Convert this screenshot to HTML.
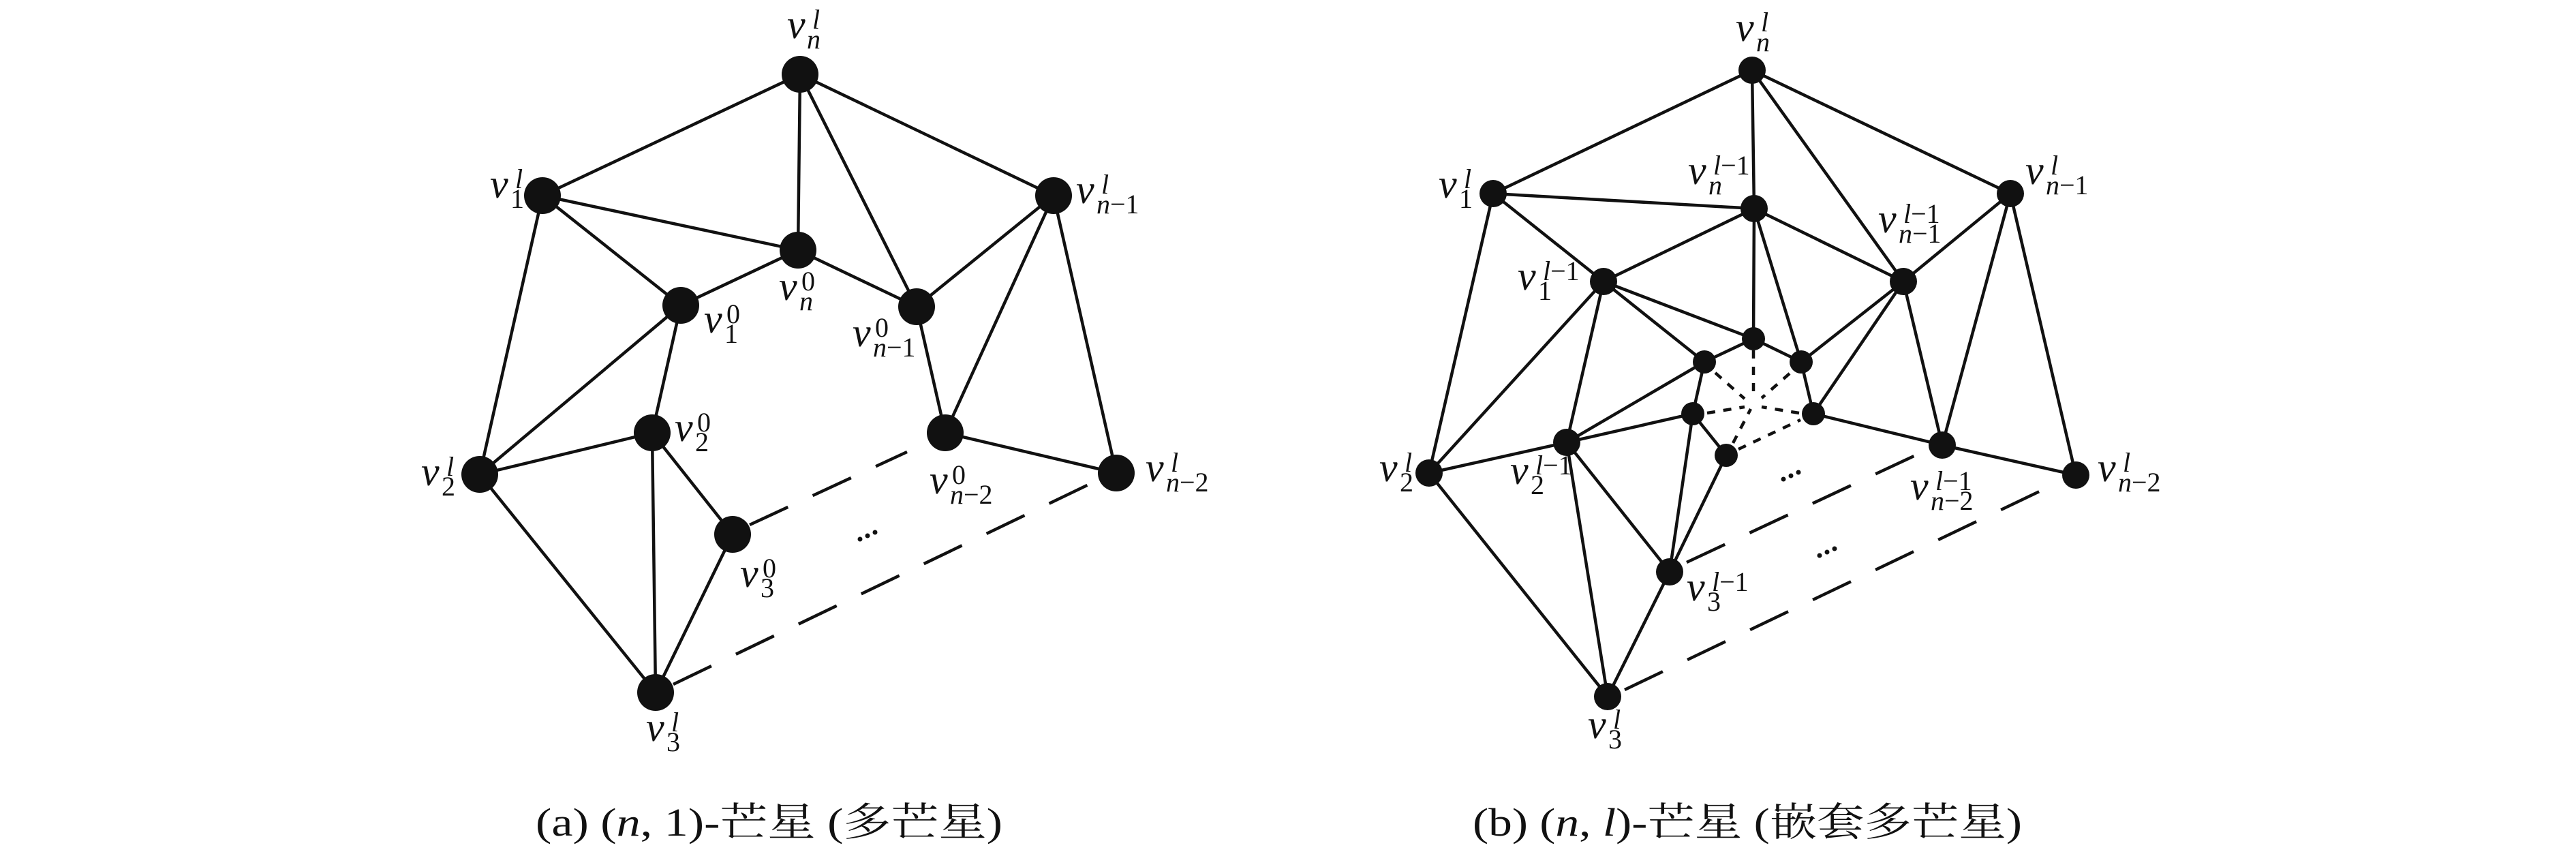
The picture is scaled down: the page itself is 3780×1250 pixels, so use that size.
<!DOCTYPE html>
<html><head><meta charset="utf-8"><style>
html,body{margin:0;padding:0;background:#fff;}
svg{display:block;}
.v{font-family:"Liberation Serif",serif;font-style:italic;font-size:60px;fill:#111;}
.s{font-family:"Liberation Serif",serif;font-size:40px;fill:#111;}
.i{font-style:italic;}
.cap{font-family:"Liberation Serif","Noto Serif CJK SC",serif;font-size:58px;fill:#111;}
</style></head><body>
<svg width="3780" height="1250" viewBox="0 0 3780 1250" xmlns="http://www.w3.org/2000/svg">
<g stroke="#111" stroke-width="4.5" fill="none" stroke-linecap="round">
<line x1="1174" y1="109" x2="796" y2="287"/>
<line x1="1174" y1="109" x2="1171" y2="367"/>
<line x1="1174" y1="109" x2="1345" y2="450"/>
<line x1="1174" y1="109" x2="1546" y2="287"/>
<line x1="796" y1="287" x2="1171" y2="367"/>
<line x1="796" y1="287" x2="999" y2="448"/>
<line x1="796" y1="287" x2="704" y2="696"/>
<line x1="1171" y1="367" x2="999" y2="448"/>
<line x1="1171" y1="367" x2="1345" y2="450"/>
<line x1="999" y1="448" x2="704" y2="696"/>
<line x1="999" y1="448" x2="957" y2="635"/>
<line x1="1345" y1="450" x2="1546" y2="287"/>
<line x1="1345" y1="450" x2="1387" y2="635"/>
<line x1="1546" y1="287" x2="1387" y2="635"/>
<line x1="1546" y1="287" x2="1638" y2="694"/>
<line x1="957" y1="635" x2="704" y2="696"/>
<line x1="957" y1="635" x2="1075" y2="784"/>
<line x1="957" y1="635" x2="962" y2="1016"/>
<line x1="704" y1="696" x2="962" y2="1016"/>
<line x1="1075" y1="784" x2="962" y2="1016"/>
<line x1="1387" y1="635" x2="1638" y2="694"/>
<line x1="2571" y1="103" x2="2191" y2="284"/>
<line x1="2571" y1="103" x2="2574" y2="306"/>
<line x1="2571" y1="103" x2="2793" y2="413"/>
<line x1="2571" y1="103" x2="2950" y2="284"/>
<line x1="2191" y1="284" x2="2574" y2="306"/>
<line x1="2191" y1="284" x2="2353" y2="413"/>
<line x1="2191" y1="284" x2="2097" y2="694"/>
<line x1="2950" y1="284" x2="2793" y2="413"/>
<line x1="2950" y1="284" x2="2850" y2="653"/>
<line x1="2950" y1="284" x2="3046" y2="697"/>
<line x1="2574" y1="306" x2="2353" y2="413"/>
<line x1="2574" y1="306" x2="2793" y2="413"/>
<line x1="2574" y1="306" x2="2573" y2="497"/>
<line x1="2574" y1="306" x2="2643" y2="531"/>
<line x1="2353" y1="413" x2="2573" y2="497"/>
<line x1="2353" y1="413" x2="2501" y2="531"/>
<line x1="2353" y1="413" x2="2097" y2="694"/>
<line x1="2353" y1="413" x2="2299" y2="649"/>
<line x1="2793" y1="413" x2="2643" y2="531"/>
<line x1="2793" y1="413" x2="2661" y2="607"/>
<line x1="2793" y1="413" x2="2850" y2="653"/>
<line x1="2573" y1="497" x2="2501" y2="531"/>
<line x1="2573" y1="497" x2="2643" y2="531"/>
<line x1="2501" y1="531" x2="2484" y2="607"/>
<line x1="2501" y1="531" x2="2299" y2="649"/>
<line x1="2643" y1="531" x2="2661" y2="607"/>
<line x1="2484" y1="607" x2="2299" y2="649"/>
<line x1="2484" y1="607" x2="2533" y2="668"/>
<line x1="2484" y1="607" x2="2450" y2="839"/>
<line x1="2533" y1="668" x2="2450" y2="839"/>
<line x1="2661" y1="607" x2="2850" y2="653"/>
<line x1="2299" y1="649" x2="2097" y2="694"/>
<line x1="2299" y1="649" x2="2359" y2="1022"/>
<line x1="2299" y1="649" x2="2450" y2="839"/>
<line x1="2097" y1="694" x2="2359" y2="1022"/>
<line x1="2450" y1="839" x2="2359" y2="1022"/>
<line x1="2850" y1="653" x2="3046" y2="697"/>
</g>
<g stroke="#111" stroke-width="4.5" fill="none" stroke-dasharray="62 40">
<line x1="1100" y1="770" x2="1331" y2="663"/>
<line x1="988" y1="1004" x2="1616" y2="702"/>
<line x1="2475" y1="825" x2="2830" y2="659"/>
<line x1="2384" y1="1012" x2="3024" y2="706"/>
</g>
<g stroke="#111" stroke-width="4.5" fill="none" stroke-dasharray="12 12">
<line x1="2573" y1="514" x2="2573" y2="575"/>
<line x1="2517" y1="547" x2="2560" y2="585"/>
<line x1="2626" y1="548" x2="2585" y2="584"/>
<line x1="2505" y1="606" x2="2560" y2="597"/>
<line x1="2640" y1="606" x2="2585" y2="597"/>
<line x1="2543" y1="650" x2="2569" y2="600"/>
<line x1="2551" y1="659" x2="2642" y2="616"/>
</g>
<g fill="#111">
<circle cx="1174" cy="109" r="27"/><circle cx="796" cy="287" r="27"/><circle cx="1171" cy="367" r="27"/>
<circle cx="999" cy="448" r="27"/><circle cx="1345" cy="450" r="27"/><circle cx="1546" cy="287" r="27"/>
<circle cx="957" cy="635" r="27"/><circle cx="1387" cy="635" r="27"/><circle cx="704" cy="696" r="27"/>
<circle cx="1638" cy="694" r="27"/><circle cx="1075" cy="784" r="27"/><circle cx="962" cy="1016" r="27"/>
<circle cx="2571" cy="103" r="20"/><circle cx="2191" cy="284" r="20"/><circle cx="2574" cy="306" r="20"/>
<circle cx="2950" cy="284" r="20"/><circle cx="2353" cy="413" r="20"/><circle cx="2793" cy="413" r="20"/>
<circle cx="2299" cy="649" r="20"/><circle cx="2850" cy="653" r="20"/><circle cx="2097" cy="694" r="20"/>
<circle cx="3046" cy="697" r="20"/><circle cx="2450" cy="839" r="20"/><circle cx="2359" cy="1022" r="20"/>
<circle cx="2573" cy="497" r="17"/><circle cx="2501" cy="531" r="17"/><circle cx="2643" cy="531" r="17"/>
<circle cx="2484" cy="607" r="17"/><circle cx="2661" cy="607" r="17"/><circle cx="2533" cy="668" r="17"/>
<circle cx="1262" cy="791" r="3.5"/><circle cx="1273" cy="786" r="3.5"/><circle cx="1284" cy="781" r="3.5"/>
<circle cx="2617" cy="703" r="3.5"/><circle cx="2628" cy="698" r="3.5"/><circle cx="2639" cy="693" r="3.5"/>
<circle cx="2670" cy="815" r="3.5"/><circle cx="2681" cy="810" r="3.5"/><circle cx="2692" cy="805" r="3.5"/>
</g>
<g>
<text class="v" x="1155" y="56">v</text><text class="s i" x="1192" y="42">l</text><text class="s i" x="1184" y="71">n</text>
<text class="v" x="719" y="290">v</text><text class="s i" x="756" y="276">l</text><text class="s" x="749" y="305">1</text>
<text class="v" x="1579" y="298">v</text><text class="s i" x="1616" y="284">l</text><text class="s" x="1609" y="313"><tspan class="i">n</tspan>−1</text>
<text class="v" x="1143" y="440">v</text><text class="s" x="1176" y="426">0</text><text class="s i" x="1173" y="455">n</text>
<text class="v" x="1033" y="488">v</text><text class="s" x="1066" y="474">0</text><text class="s" x="1063" y="503">1</text>
<text class="v" x="1251" y="508">v</text><text class="s" x="1284" y="494">0</text><text class="s" x="1281" y="523"><tspan class="i">n</tspan>−1</text>
<text class="v" x="990" y="647">v</text><text class="s" x="1023" y="633">0</text><text class="s" x="1020" y="662">2</text>
<text class="v" x="618" y="712">v</text><text class="s i" x="655" y="698">l</text><text class="s" x="648" y="727">2</text>
<text class="v" x="1364" y="724">v</text><text class="s" x="1397" y="710">0</text><text class="s" x="1394" y="739"><tspan class="i">n</tspan>−2</text>
<text class="v" x="1681" y="706">v</text><text class="s i" x="1718" y="692">l</text><text class="s" x="1711" y="721"><tspan class="i">n</tspan>−2</text>
<text class="v" x="1086" y="861">v</text><text class="s" x="1119" y="847">0</text><text class="s" x="1116" y="876">3</text>
<text class="v" x="948" y="1087">v</text><text class="s i" x="985" y="1073">l</text><text class="s" x="978" y="1102">3</text>
</g>
<g>
<text class="v" x="2547" y="60">v</text><text class="s i" x="2584" y="46">l</text><text class="s i" x="2577" y="75">n</text>
<text class="v" x="2111" y="290">v</text><text class="s i" x="2148" y="276">l</text><text class="s" x="2141" y="305">1</text>
<text class="v" x="2477" y="270">v</text><text class="s" x="2514" y="256"><tspan class="i">l</tspan>−1</text><text class="s i" x="2507" y="285">n</text>
<text class="v" x="2972" y="270">v</text><text class="s i" x="3009" y="256">l</text><text class="s" x="3002" y="285"><tspan class="i">n</tspan>−1</text>
<text class="v" x="2756" y="341">v</text><text class="s" x="2793" y="327"><tspan class="i">l</tspan>−1</text><text class="s" x="2786" y="356"><tspan class="i">n</tspan>−1</text>
<text class="v" x="2227" y="425">v</text><text class="s" x="2264" y="411"><tspan class="i">l</tspan>−1</text><text class="s" x="2257" y="440">1</text>
<text class="v" x="2024" y="706">v</text><text class="s i" x="2061" y="692">l</text><text class="s" x="2054" y="721">2</text>
<text class="v" x="2216" y="710">v</text><text class="s" x="2253" y="696"><tspan class="i">l</tspan>−1</text><text class="s" x="2246" y="725">2</text>
<text class="v" x="2803" y="733">v</text><text class="s" x="2840" y="719"><tspan class="i">l</tspan>−1</text><text class="s" x="2833" y="748"><tspan class="i">n</tspan>−2</text>
<text class="v" x="3078" y="706">v</text><text class="s i" x="3115" y="692">l</text><text class="s" x="3108" y="721"><tspan class="i">n</tspan>−2</text>
<text class="v" x="2475" y="881">v</text><text class="s" x="2512" y="867"><tspan class="i">l</tspan>−1</text><text class="s" x="2505" y="896">3</text>
<text class="v" x="2330" y="1083">v</text><text class="s i" x="2367" y="1069">l</text><text class="s" x="2360" y="1098">3</text>
</g>
<text class="cap" x="786" y="1226" textLength="685" lengthAdjust="spacingAndGlyphs">(a) (<tspan font-style="italic">n</tspan>, 1)-芒星 (多芒星)</text>
<text class="cap" x="2161" y="1226" textLength="806" lengthAdjust="spacingAndGlyphs">(b) (<tspan font-style="italic">n</tspan>, <tspan font-style="italic">l</tspan>)-芒星 (嵌套多芒星)</text>
</svg>
</body></html>
